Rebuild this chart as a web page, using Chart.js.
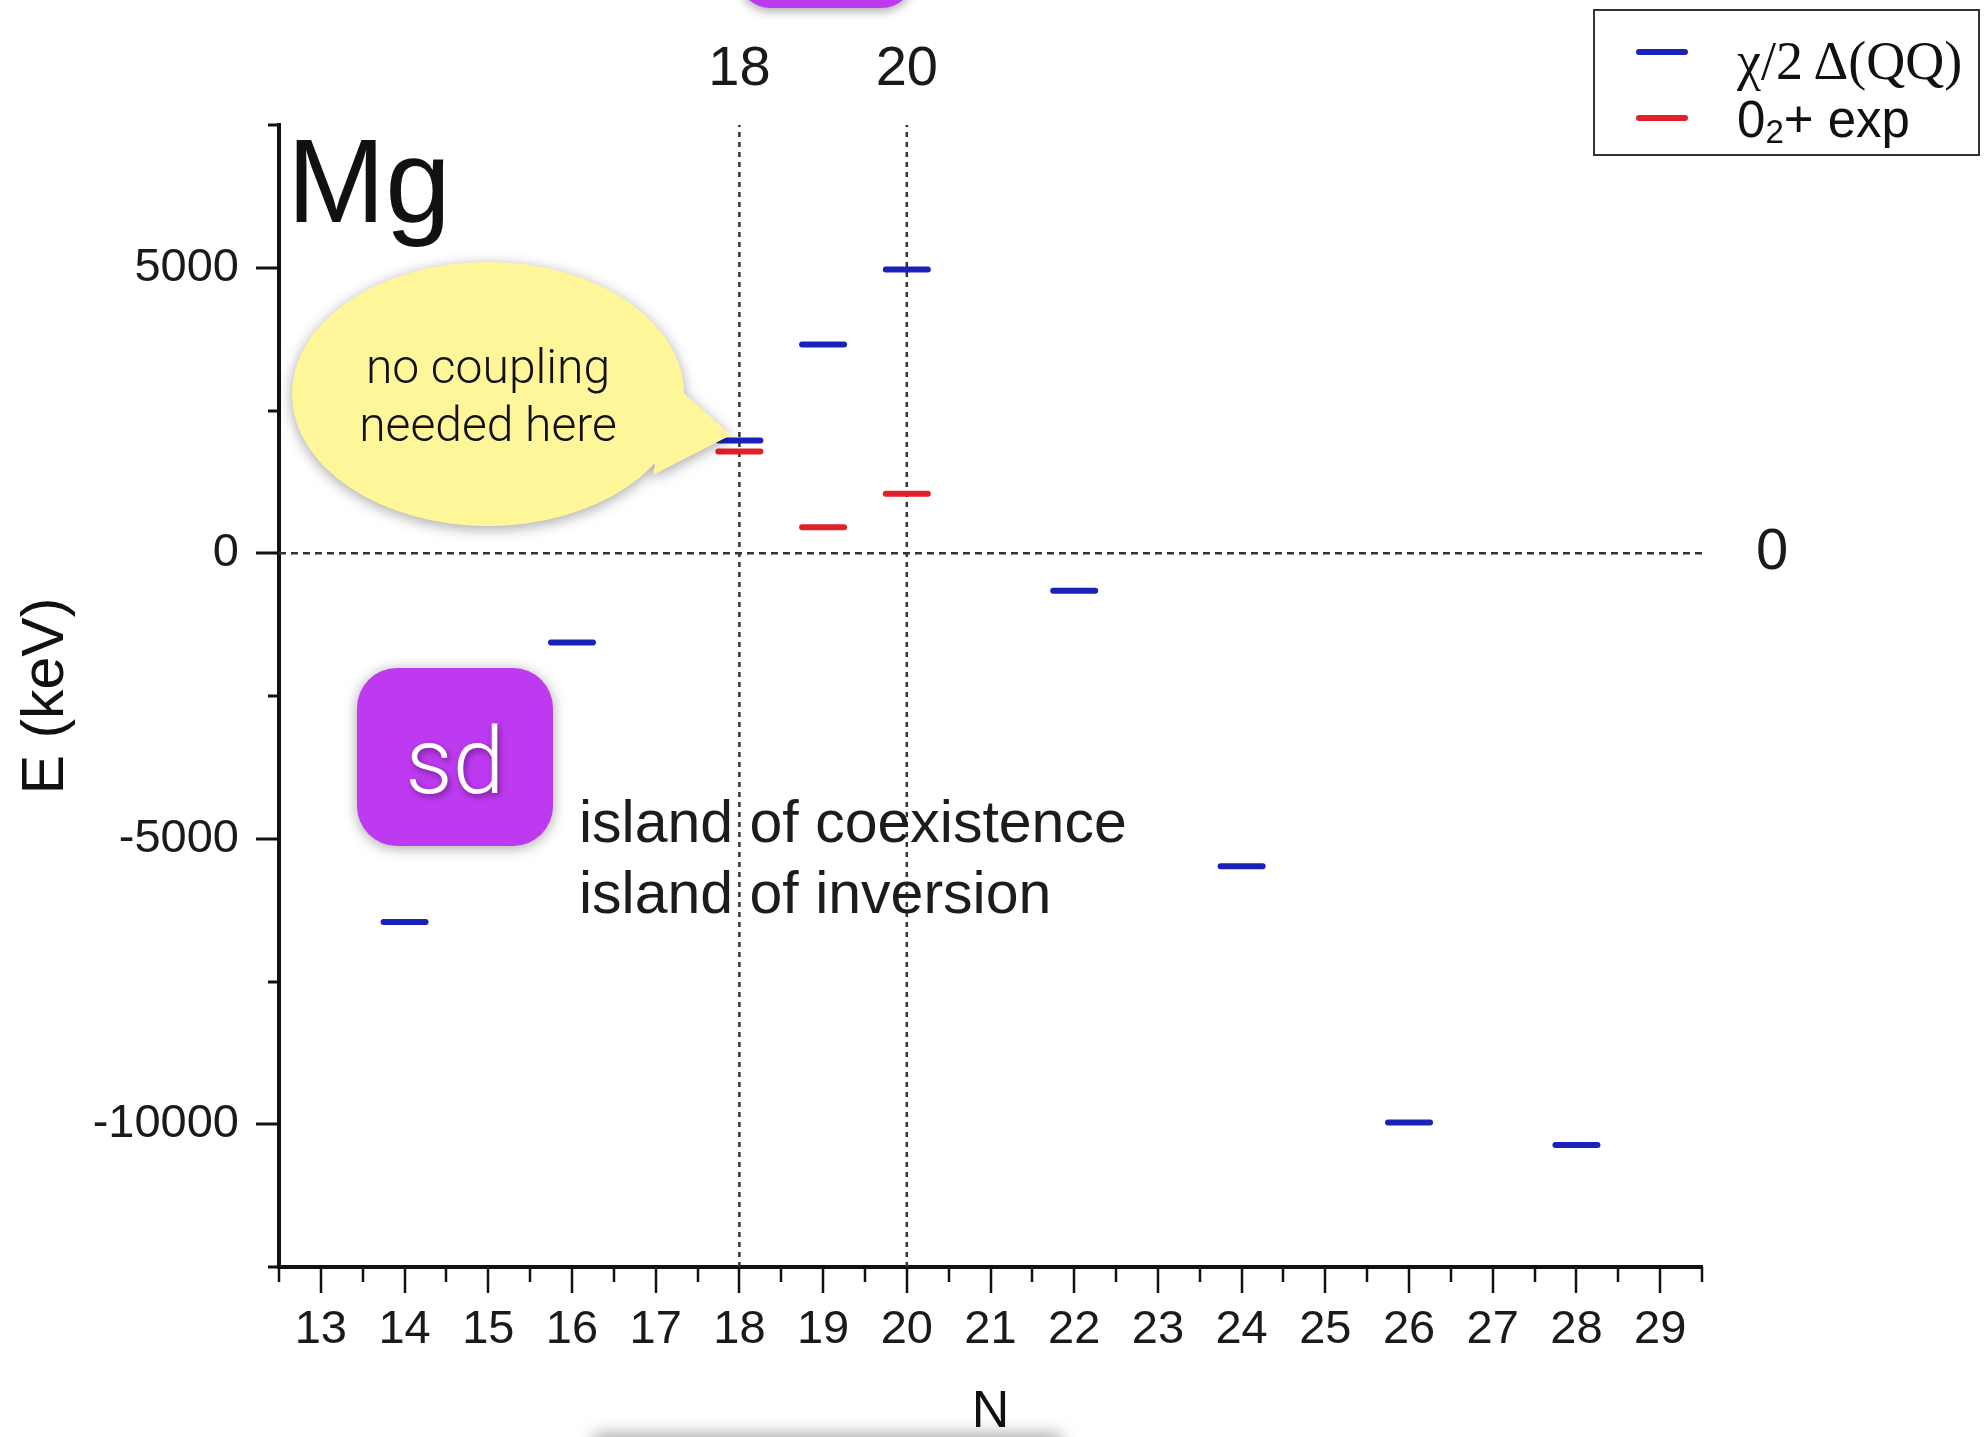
<!DOCTYPE html>
<html>
<head>
<meta charset="utf-8">
<script src="https://cdn.jsdelivr.net/npm/chart.js@4.4.0/dist/chart.umd.min.js"></script>
<style>
  html, body { margin: 0; padding: 0; background: #fff; overflow: hidden; }
  #wrap { position: relative; width: 1987px; height: 1437px; overflow: hidden; background: #fff; }
  #chart { position: absolute; left: 0; top: 0; }
  #topTab { position: absolute; left: 737px; top: -100px; width: 178px; height: 108px;
    background: #be3af0; border-radius: 34px; box-shadow: 0 4px 10px rgba(0,0,0,0.3); }
  #bottomBar { position: absolute; left: 600px; top: 1442px; width: 455px; height: 60px;
    background: #ccc; box-shadow: 0 -2px 16px 6px rgba(0,0,0,0.35); }
  #sdBox { position: absolute; left: 357px; top: 668px; width: 196px; height: 178px;
    background: #be3af0; border-radius: 40px; box-shadow: 0 2px 14px rgba(0,0,0,0.35); }
  svg.overlay { position: absolute; left: 0; top: 0; }
</style>
</head>
<body>
<div id="wrap">
  <canvas id="chart" width="1987" height="1437"></canvas>
  <div id="topTab"></div>
  <div id="bottomBar"></div>
  <div id="sdBox"></div>
  <svg class="overlay" width="1987" height="1437">
    <!-- speech bubble -->
    <g style="filter: drop-shadow(0 3px 7px rgba(0,0,0,0.35));">
      <path fill="#fff69a" d="M 669 380 L 731 435 L 653 475 Z"/>
      <ellipse cx="488" cy="394" rx="196" ry="132" fill="#fff69a"/>
    </g>
    <text x="488" y="383" text-anchor="middle" font-family="Roboto" font-weight="300" font-size="48" fill="#111">no coupling</text>
    <text x="488" y="441" text-anchor="middle" font-family="Roboto" font-weight="300" font-size="48" fill="#111">needed here</text>

    <text x="287" y="222" font-family="Liberation Sans" font-size="118" fill="#111">Mg</text>

    <text x="455" y="793" text-anchor="middle" font-family="Roboto" font-weight="300" font-size="93" fill="#fff"
      style="filter: drop-shadow(2px 3px 3px rgba(0,0,0,0.4));">sd</text>

    <text x="579" y="842" font-family="Liberation Sans" font-size="59" fill="#1c1c1c">island of coexistence</text>
    <text x="579" y="913" font-family="Liberation Sans" font-size="59" fill="#1c1c1c">island of inversion</text>

    <!-- legend -->
    <rect x="1594" y="10" width="385" height="145" fill="#fff" stroke="#333" stroke-width="2"/>
    <line x1="1639" y1="52" x2="1685" y2="52" stroke="#1a22b8" stroke-width="6" stroke-linecap="round"/>
    <line x1="1639" y1="118" x2="1685" y2="118" stroke="#e0202a" stroke-width="6" stroke-linecap="round"/>
    <text x="1737" y="79" font-family="Liberation Serif" font-size="54" fill="#111">χ/2 Δ(QQ)</text>
    <text x="1737" y="137" font-family="Liberation Sans" font-size="51" fill="#111">0<tspan font-size="33" dy="6">2</tspan><tspan dy="-6">+ exp</tspan></text>
  </svg>
</div>
<script>
// neutron number N and chi/2 Delta(QQ) energies (keV)
const neutronNumbers = [14, 16, 18, 19, 20, 22, 24, 26, 28];
const qqEnergies = [-6460, -1565, 1975, 3655, 4970, -658, -5482, -9968, -10365];

// experimental 0_2+ energies (keV)
const expNeutrons = [18, 19, 20];
const expEnergies = [1780, 455, 1040];

// axes
const xTicks = [13, 14, 15, 16, 17, 18, 19, 20, 21, 22, 23, 24, 25, 26, 27, 28, 29];
const yTicks = [-10000, -5000, 0, 5000];
const shellClosures = [18, 20];
const rightTicks = [0];
const xMin = 12.5, xMax = 29.5;
const yMin = -12500, yMax = 7500;

const blue = '#1a22b8';
const red = '#e0202a';
const dashColor = '#333';
const font = 'Liberation Sans';

// outward major/minor tick marks like the origin plot
const axisTicks = {
  id: 'axisTicks',
  beforeDatasetsDraw(chart) {
    chart.ctx.lineCap = 'round';
  },
  afterDatasetsDraw(chart) {
    chart.ctx.lineCap = 'butt';
  },
  afterDraw(chart) {
    const { ctx, scales: { x, y } } = chart;
    ctx.save();
    ctx.strokeStyle = '#111';
    ctx.lineWidth = 3;
    ctx.beginPath();
    for (let v = yMin; v <= yMax; v += 2500) {
      const py = Math.round(y.getPixelForValue(v));
      const len = v % 5000 === 0 ? 23 : 11;
      ctx.moveTo(y.right, py);
      ctx.lineTo(y.right - len, py);
    }
    ctx.stroke();
    ctx.lineWidth = 2.5;
    ctx.beginPath();
    for (let v = xMin; v <= xMax; v += 0.5) {
      const px = Math.round(x.getPixelForValue(v));
      const len = Number.isInteger(v) ? 26 : 15;
      ctx.moveTo(px, x.top);
      ctx.lineTo(px, x.top + len);
    }
    ctx.stroke();
    ctx.restore();
  }
};

const ctx = document.getElementById('chart');
new Chart(ctx, {
  type: 'scatter',
  data: {
    datasets: [
      {
        label: 'χ/2 Δ(QQ)',
        data: neutronNumbers.map((n, i) => ({ x: n, y: qqEnergies[i] })),
        pointStyle: 'line',
        pointRadius: 21,
        borderWidth: 6,
        pointBorderWidth: 6,
        borderColor: blue,
        pointBorderColor: blue,
        pointBackgroundColor: blue,
        showLine: false
      },
      {
        label: '02+ exp',
        data: expNeutrons.map((n, i) => ({ x: n, y: expEnergies[i] })),
        pointStyle: 'line',
        pointRadius: 21,
        borderWidth: 6,
        pointBorderWidth: 6,
        borderColor: red,
        pointBorderColor: red,
        pointBackgroundColor: red,
        showLine: false
      },
      // dashed guide lines: N = 18, N = 20 and E = 0
      ...shellClosures.map(n => ({
        data: [{ x: n, y: yMin }, { x: n, y: yMax }],
        showLine: true,
        pointRadius: 0,
        borderColor: dashColor,
        borderWidth: 2.5,
        borderDash: [5, 5]
      })),
      {
        data: [{ x: xMin, y: 0 }, { x: xMax, y: 0 }],
        showLine: true,
        pointRadius: 0,
        borderColor: dashColor,
        borderWidth: 2.5,
        borderDash: [7, 5]
      }
    ]
  },
  options: {
    responsive: false,
    animation: false,
    events: [],
    layout: { padding: 0 },
    plugins: {
      legend: { display: false },
      tooltip: { enabled: false }
    },
    scales: {
      x: {
        type: 'linear',
        position: 'bottom',
        min: xMin,
        max: xMax,
        afterBuildTicks: s => { s.ticks = xTicks.map(v => ({ value: v })); },
        afterFit: s => { s.height = 170; },
        grid: { display: false, drawTicks: false },
        border: { display: true, width: 4, color: '#111' },
        ticks: {
          padding: 35,
          color: '#1a1a1a',
          font: { family: font, size: 47 },
          maxRotation: 0,
          autoSkip: false,
          callback: v => String(v)
        },
        title: {
          display: true,
          text: 'N',
          color: '#111',
          font: { family: font, size: 52, lineHeight: 0.92 },
          padding: 0
        }
      },
      xTop: {
        type: 'linear',
        position: 'top',
        min: xMin,
        max: xMax,
        afterBuildTicks: s => { s.ticks = shellClosures.map(v => ({ value: v })); },
        afterFit: s => { s.height = 125; },
        grid: { display: false, drawTicks: false },
        border: { display: false },
        ticks: {
          padding: 22,
          color: '#1a1a1a',
          font: { family: font, size: 56 },
          maxRotation: 0,
          autoSkip: false,
          callback: v => String(v)
        }
      },
      y: {
        type: 'linear',
        position: 'left',
        min: yMin,
        max: yMax,
        afterBuildTicks: s => { s.ticks = yTicks.map(v => ({ value: v })); },
        afterFit: s => { s.width = 279; },
        grid: { display: false, drawTicks: false },
        border: { display: true, width: 4, color: '#111' },
        ticks: {
          padding: 40,
          color: '#1a1a1a',
          font: { family: font, size: 47 },
          callback: v => String(v)
        },
        title: {
          display: true,
          text: 'E (keV)',
          color: '#111',
          font: { family: font, size: 59 },
          padding: { top: 11, bottom: 0 }
        }
      },
      yRight: {
        type: 'linear',
        position: 'right',
        min: yMin,
        max: yMax,
        afterBuildTicks: s => { s.ticks = rightTicks.map(v => ({ value: v })); },
        afterFit: s => { s.width = 285; },
        grid: { display: false, drawTicks: false },
        border: { display: false },
        ticks: {
          padding: 54,
          color: '#1a1a1a',
          font: { family: font, size: 58 },
          callback: v => String(v)
        }
      }
    }
  },
  plugins: [axisTicks]
});
</script>
</body>
</html>
